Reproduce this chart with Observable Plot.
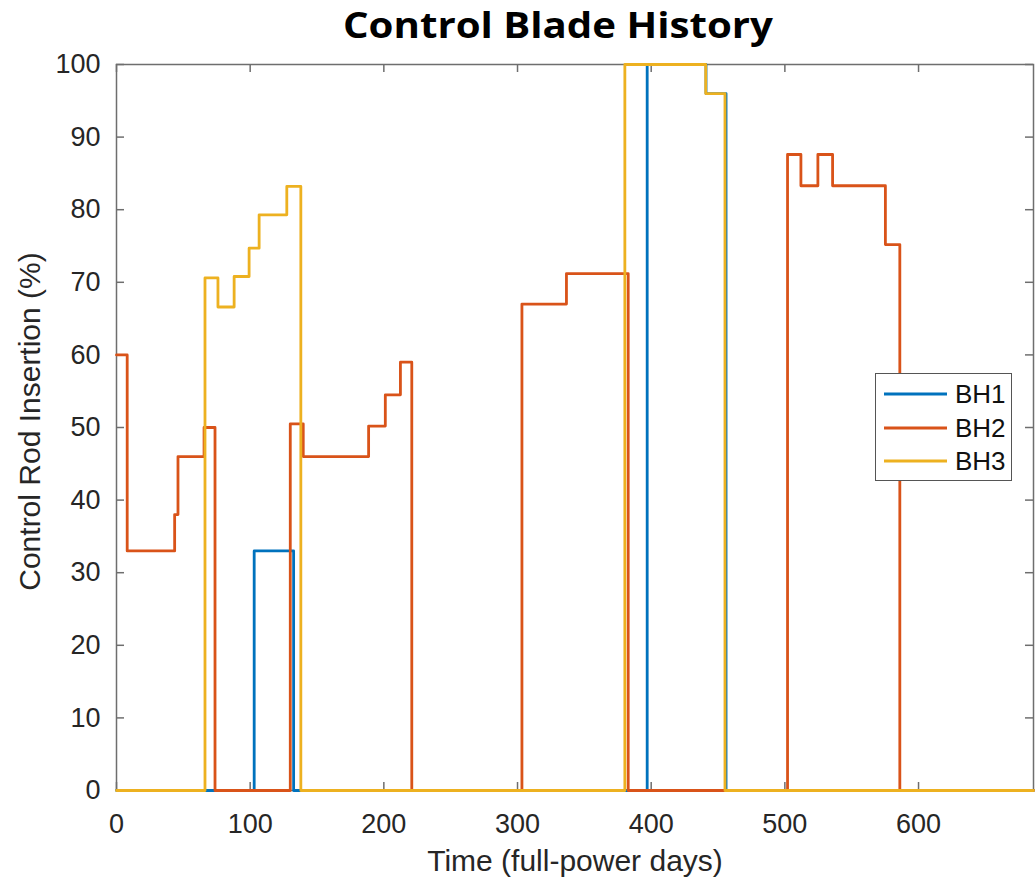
<!DOCTYPE html>
<html>
<head>
<meta charset="utf-8">
<script src="https://cdn.jsdelivr.net/npm/d3@7"></script>
<script src="https://cdn.jsdelivr.net/npm/@observablehq/plot@0.6"></script>
<style>
  html, body { margin: 0; padding: 0; background: #fff; }
  #wrap { position: relative; width: 1035px; height: 880px; overflow: hidden; }
  #title { position: absolute; left: 0; top: 0; }
  #legend { position: absolute; left: 875px; top: 373px; width: 137px; height: 108px;
            border: 1.5px solid #555; background: #fff; box-sizing: border-box; }
  #legend .row { position: absolute; left: 0; height: 34px; width: 100%; }
  #legend svg { position: absolute; left: 8px; top: 0; }
  #legend span { position: absolute; left: 79px; top: 0; line-height: 34px;
                 font-family: "Liberation Sans", Arial, sans-serif; font-size: 26px; color: #111; }
</style>
</head>
<body>
<div id="wrap">
  <div id="chart"></div>
  <svg id="title" width="1035" height="60">
    <text x="558" y="38" text-anchor="middle" textLength="430" lengthAdjust="spacingAndGlyphs"
          font-family="'Open Sans', Lato, sans-serif" font-weight="bold" font-size="36" fill="#000">Control Blade History</text>
  </svg>
  <div id="legend"></div>
</div>
<script>
// ---- data (step change points; value holds until next time) ----
const seriesNames = ["BH1", "BH2", "BH3"];
const seriesColors = ["#0072BD", "#D95319", "#EDB120"];

const bh1Times  = [0, 103, 132.5, 397, 441, 456, 686];
const bh1Values = [0, 33, 0, 100, 96, 0, 0];

const bh2Times  = [0, 8, 43.5, 46, 65.5, 73.7, 130, 139.7, 188.6, 201.1, 212.4, 220.9, 303.3, 336.6, 382.8, 502, 512, 524.7, 535.7, 575.2, 586, 686];
const bh2Values = [60, 33, 38, 46, 50, 0, 50.5, 46, 50.2, 54.5, 59, 0, 67, 71.2, 0, 87.6, 83.3, 87.6, 83.3, 75.2, 0, 0];

const bh3Times  = [0, 66.2, 75.9, 88, 99.2, 106.7, 127.4, 137.9, 380.3, 440.8, 455.2, 686];
const bh3Values = [0, 70.6, 66.6, 70.8, 74.7, 79.3, 83.2, 0, 100, 96, 0, 0];

const xTicks = [0, 100, 200, 300, 400, 500, 600];
const yTicks = [0, 10, 20, 30, 40, 50, 60, 70, 80, 90, 100];
const xDomain = [0, 686];
const yDomain = [0, 100];
const xLabel = "Time (full-power days)";
const yLabel = "Control Rod Insertion (%)";

// ---- build table ----
const rows = [];
[[bh1Times, bh1Values], [bh2Times, bh2Values], [bh3Times, bh3Values]].forEach(([t, v], i) => {
  t.forEach((tt, j) => rows.push({series: seriesNames[i], t: tt, v: v[j]}));
});

const W = 1035, H = 880;
const mL = 116, mR = 2, mT = 64, mB = 90;
const frameW = W - mL - mR, frameH = H - mT - mB;
const tickLen = 8;
const axisColor = "#6e6e6e";

const chart = Plot.plot({
  width: W,
  height: H,
  marginLeft: mL,
  marginRight: mR,
  marginTop: mT,
  marginBottom: mB,
  style: {fontFamily: "'Liberation Sans', Arial, sans-serif", fontSize: "27px", color: "#262626", background: "#fff"},
  x: {domain: xDomain, ticks: xTicks},
  y: {domain: yDomain, ticks: yTicks},
  color: {domain: seriesNames, range: seriesColors},
  marks: [
    Plot.axisX({ticks: xTicks, tickSize: 0, tickPadding: 23, label: null, fontSize: 27}),
    Plot.axisY({ticks: yTicks, tickSize: 0, tickPadding: 16, label: null, fontSize: 27}),
    // inward ticks on all four sides
    Plot.ruleX(xTicks, {x: d => d, insetTop: frameH - tickLen, stroke: axisColor, strokeWidth: 1.5}),
    Plot.ruleX(xTicks, {x: d => d, insetBottom: frameH - tickLen, stroke: axisColor, strokeWidth: 1.5}),
    Plot.ruleY(yTicks, {y: d => d, insetRight: frameW - tickLen, stroke: axisColor, strokeWidth: 1.5}),
    Plot.ruleY(yTicks, {y: d => d, insetLeft: frameW - tickLen, stroke: axisColor, strokeWidth: 1.5}),
    Plot.frame({stroke: axisColor, strokeWidth: 1.5}),
    Plot.line(rows, {x: "t", y: "v", z: "series", stroke: "series", curve: "step-after", strokeWidth: 2.8}),
    Plot.text([xLabel], {text: d => d, frameAnchor: "bottom", dy: 71, fontSize: 30, fill: "#262626", lineAnchor: "middle"}),
    Plot.text([yLabel], {text: d => d, frameAnchor: "left", textAnchor: "middle", dx: -86, dy: -6, rotate: -90, fontSize: 30, fill: "#262626", lineAnchor: "middle"})
  ]
});
document.getElementById("chart").appendChild(chart);

// ---- legend ----
const legend = document.getElementById("legend");
seriesNames.forEach((name, i) => {
  const row = document.createElement("div");
  row.className = "row";
  row.style.top = (3 + i * 33.7) + "px";
  row.innerHTML = `<svg width="66" height="34"><line x1="0" x2="63" y1="17" y2="17" stroke="${seriesColors[i]}" stroke-width="2.8"/></svg><span>${name}</span>`;
  legend.appendChild(row);
});
</script>
</body>
</html>
